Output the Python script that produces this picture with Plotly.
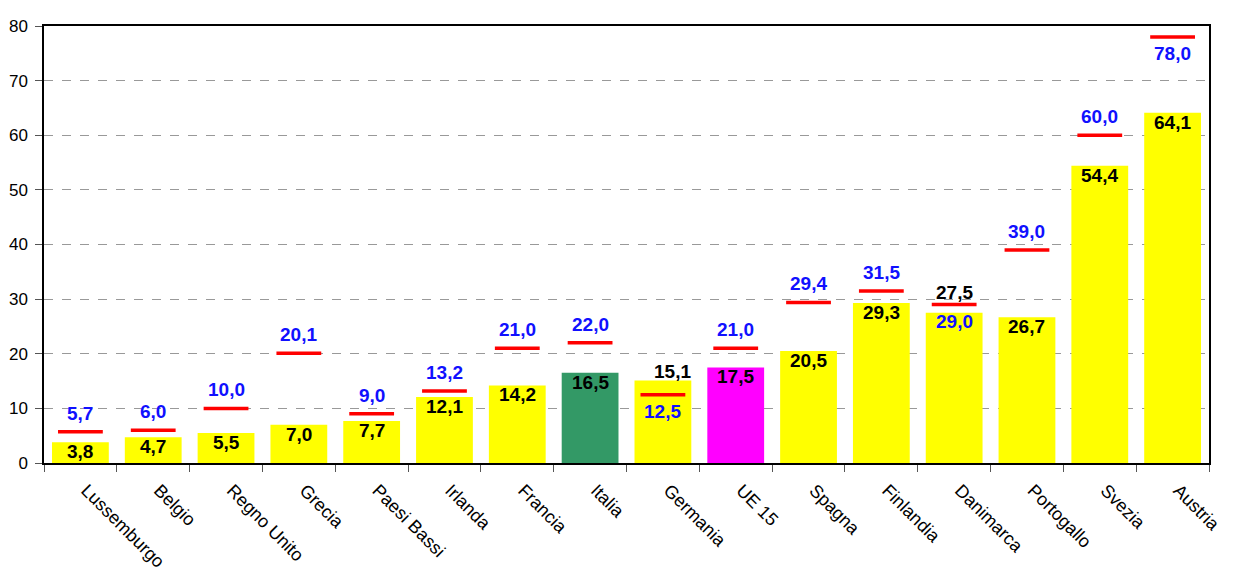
import plotly.graph_objects as go

# Data
paesi = ['Lussemburgo', 'Belgio', 'Regno Unito', 'Grecia', 'Paesi Bassi', 'Irlanda',
         'Francia', 'Italia', 'Germania', 'UE 15', 'Spagna', 'Finlandia', 'Danimarca',
         'Portogallo', 'Svezia', 'Austria']
valori = [3.8, 4.7, 5.5, 7.0, 7.7, 12.1, 14.2, 16.5, 15.1, 17.5, 20.5, 29.3, 27.5, 26.7, 54.4, 64.1]
obiettivi = [5.7, 6.0, 10.0, 20.1, 9.0, 13.2, 21.0, 22.0, 12.5, 21.0, 29.4, 31.5, 29.0, 39.0, 60.0, 78.0]
# where the labels sit
pos_valore = ['in'] * 8 + ['sopra'] + ['in'] * 3 + ['sopra_obiettivo'] + ['in'] * 3
pos_obiettivo = ['sopra'] * 8 + ['sotto'] + ['sopra'] * 3 + ['sotto'] + ['sopra'] * 2 + ['sotto']

colori = ['#FFFF00'] * 16
colori[paesi.index('Italia')] = '#339966'
colori[paesi.index('UE 15')] = '#FF00FF'

def fmt(v):
    return f'{v:.1f}'.replace('.', ',')

fig = go.Figure()
fig.add_trace(go.Bar(x=paesi, y=valori, marker=dict(color=colori, line=dict(width=0)),
                     hoverinfo='skip'))
fig.add_trace(go.Scatter(x=paesi, y=obiettivi, mode='markers',
                         marker=dict(symbol='line-ew', size=32,
                                     line=dict(color='#FF0000', width=3.5)),
                         hoverinfo='skip'))

lbl_font = dict(family='Liberation Sans, Arial', size=19, color='black')
blue_font = dict(family='Liberation Sans, Arial', size=19, color='#1010FF')
for p, v, t, pv, pt in zip(paesi, valori, obiettivi, pos_valore, pos_obiettivo):
    if pv == 'in':
        fig.add_annotation(x=p, y=v, text=f'<b>{fmt(v)}</b>', showarrow=False,
                           yanchor='top', yshift=3, font=lbl_font)
    elif pv == 'sopra':
        fig.add_annotation(x=p, y=v, text=f'<b>{fmt(v)}</b>', showarrow=False,
                           yanchor='bottom', xshift=10, yshift=-3, font=lbl_font)
    else:
        fig.add_annotation(x=p, y=t, text=f'<b>{fmt(v)}</b>', showarrow=False,
                           yanchor='bottom', yshift=0, font=lbl_font)
    if pt == 'sopra':
        fig.add_annotation(x=p, y=t, text=f'<b>{fmt(t)}</b>', showarrow=False,
                           yanchor='bottom', yshift=6, font=blue_font)
    else:
        fig.add_annotation(x=p, y=t, text=f'<b>{fmt(t)}</b>', showarrow=False,
                           yanchor='top', yshift=-4, font=blue_font)

fig.update_layout(
    width=1217, height=564,
    margin=dict(l=36, r=16, t=18, b=109),
    plot_bgcolor='white', paper_bgcolor='white',
    showlegend=False, bargap=0.22,
    font=dict(family='Liberation Sans, Arial', size=16, color='black'),
)
fig.update_xaxes(range=[-0.5, len(paesi) - 0.5], tickangle=45, showline=True,
                 linecolor='black', linewidth=1.5,
                 mirror=True, ticks='outside', tickson='boundaries', ticklen=7,
                 tickcolor='#555', tickfont=dict(size=18), showgrid=False,
                 ticklabelstandoff=8, ticklabelshift=6, automargin=False)
fig.update_yaxes(range=[0, 80], dtick=10, showline=True, linecolor='black', linewidth=1.5,
                 mirror=True, ticks='outside', ticklen=7, tickcolor='#555',
                 showgrid=True, gridcolor='#999999', griddash='dash', gridwidth=1,
                 zeroline=False, tickfont=dict(size=17), ticklabelstandoff=4,
                 automargin=False)

fig.write_html('out.html')
